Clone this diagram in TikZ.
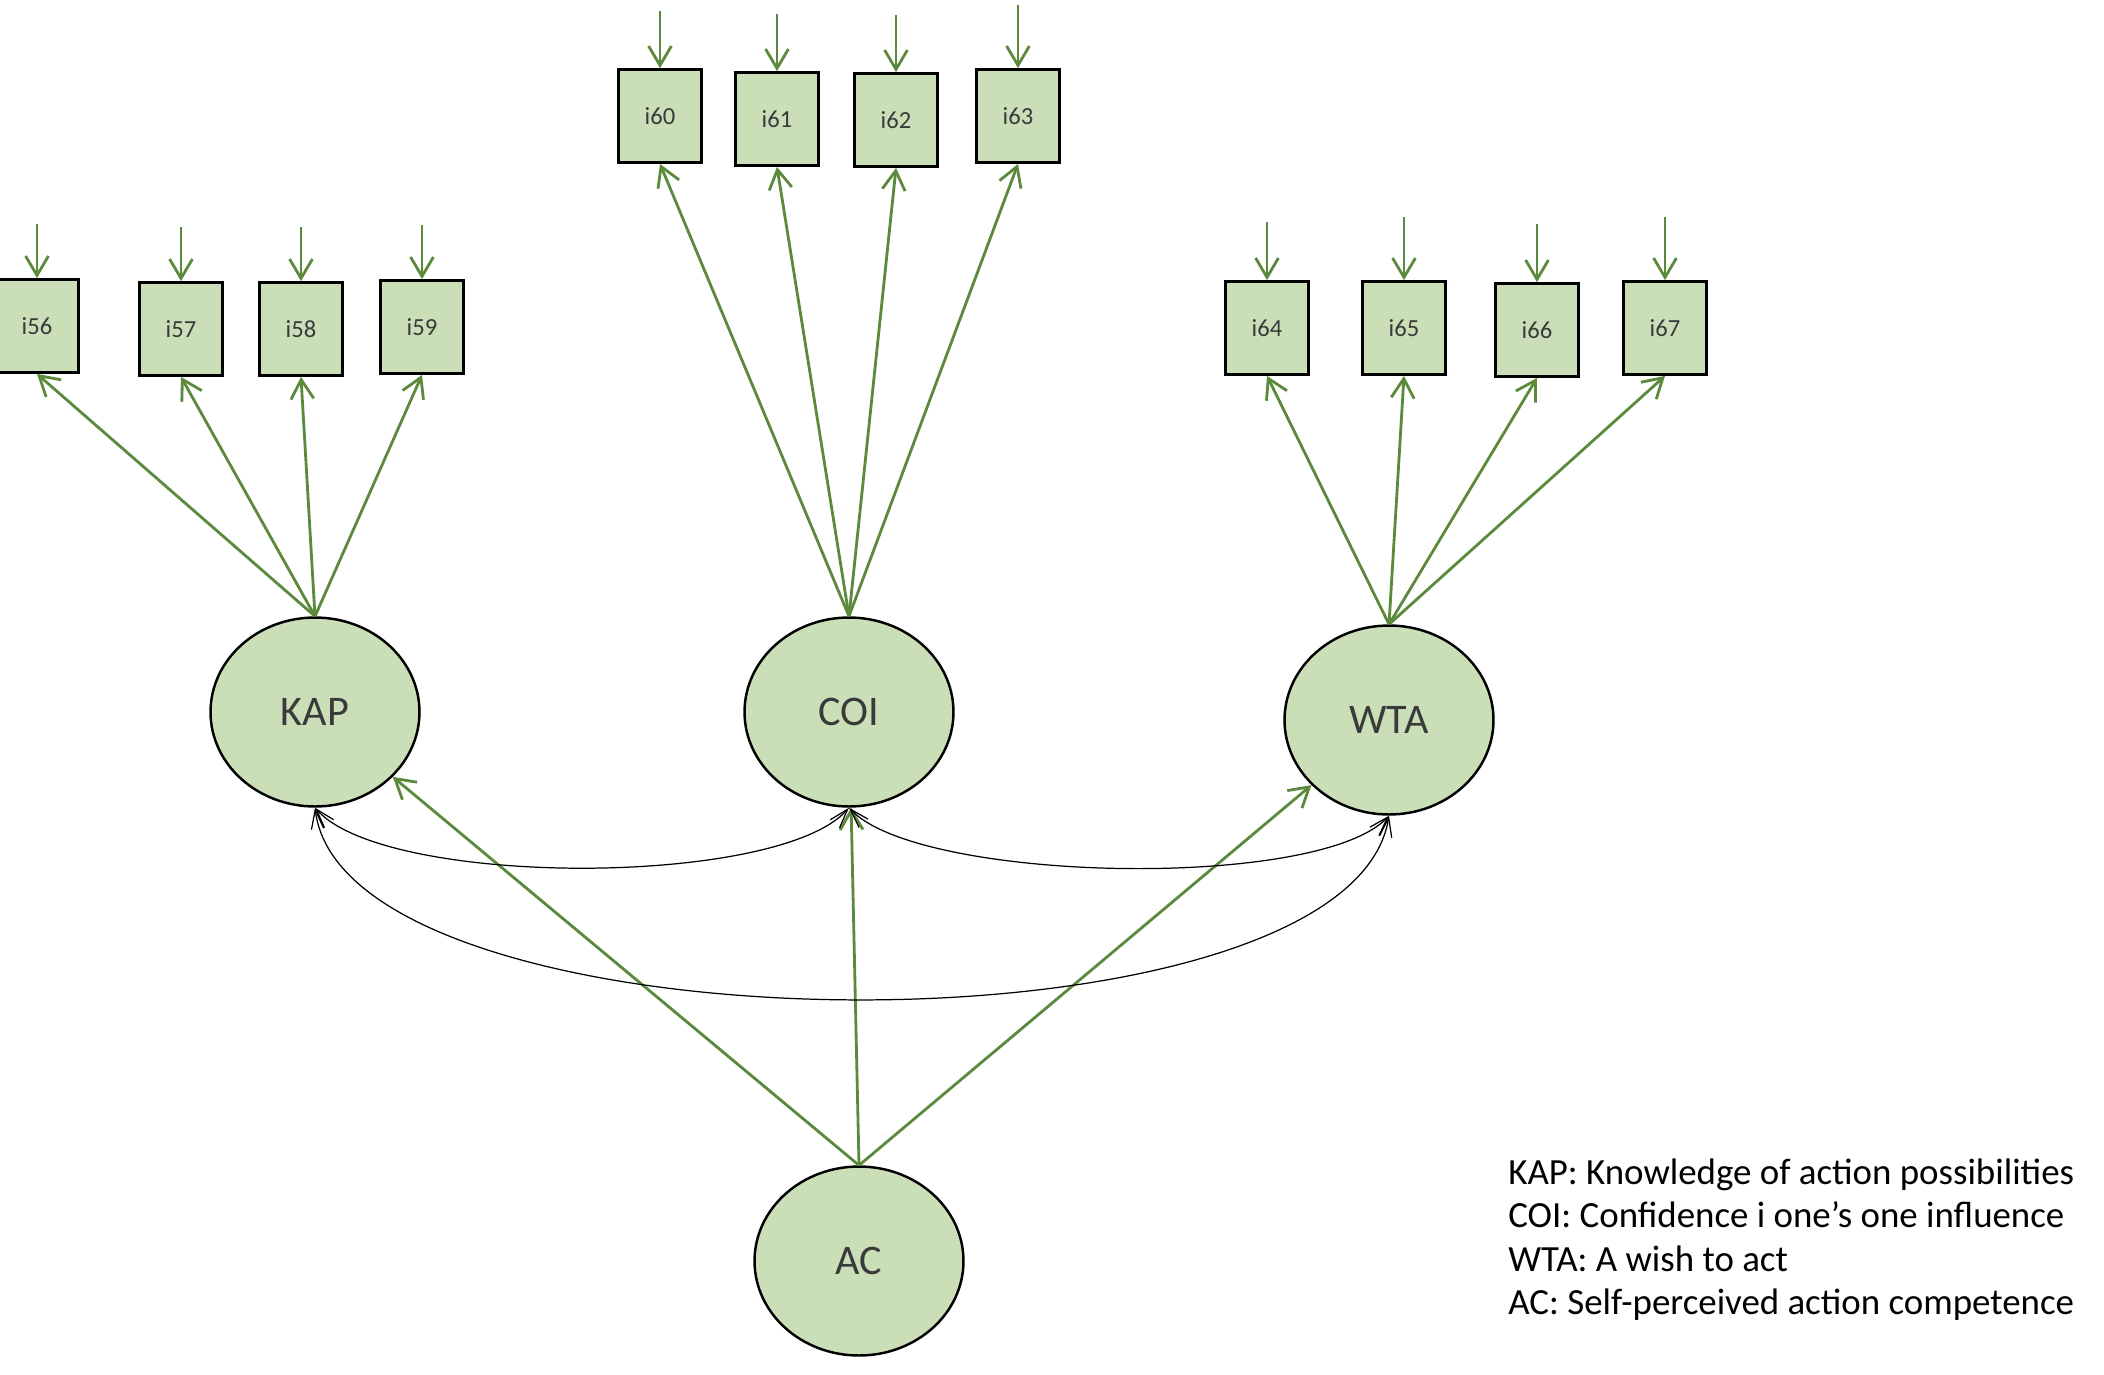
\documentclass[tikz,border=0pt]{standalone}
\usepackage{fontspec}
\setmainfont{Carlito}
\usetikzlibrary{shapes.geometric,arrows.meta,calc}

\definecolor{itemfill}{HTML}{CADFB8}
\definecolor{loadgreen}{HTML}{5B8A3C}
\definecolor{labelgray}{HTML}{3A3A3A}

\tikzset{
  item/.style={draw=black, line width=1.6pt, fill=itemfill, minimum width=1.66cm,
    minimum height=1.86cm, inner sep=0pt, text=labelgray, font=\fontsize{14}{16}\selectfont},
  factor/.style={ellipse, draw=black, line width=1.4pt, fill=itemfill, minimum width=4.18cm,
    minimum height=3.78cm, inner sep=0pt, text=labelgray, font=\fontsize{24}{28}\selectfont},
  load/.style={draw=loadgreen, line width=1.6pt, -{Straight Barb[length=11pt,width=13pt]}},
  covar/.style={draw=black, line width=0.7pt,
    {Straight Barb[length=11pt,width=7pt]}-{Straight Barb[length=11pt,width=7pt]}},
  legend/.style={anchor=base west, inner sep=0pt, font=\fontsize{21}{25}\selectfont}
}

\begin{document}
\begin{tikzpicture}[x=0.02cm, y=-0.02cm]
  \useasboundingbox (0,0) rectangle (2104,1374);

  % observed items
  \node[item] (i56) at (37,326) {i56};
  \node[item] (i57) at (181,329) {i57};
  \node[item] (i58) at (301,329) {i58};
  \node[item] (i59) at (422,327) {i59};
  \node[item] (i60) at (660,116) {i60};
  \node[item] (i61) at (777,119) {i61};
  \node[item] (i62) at (896,120) {i62};
  \node[item] (i63) at (1018,116) {i63};
  \node[item] (i64) at (1267,328) {i64};
  \node[item] (i65) at (1404,328) {i65};
  \node[item] (i66) at (1537,330) {i66};
  \node[item] (i67) at (1665,328) {i67};

  % latent factors
  \node[factor] (KAP) at (315,712) {KAP};
  \node[factor] (COI) at (849,712) {COI};
  \node[factor] (WTA) at (1389,720) {WTA};
  \node[factor] (AC) at (859,1261) {AC};

  % error terms
  \foreach \n/\h in {56/54,57/54,58/54,59/54,60/57,61/57,62/57,63/63,64/58,65/63,66/58,67/63}
  {
    \coordinate (e\n) at ($(i\n.north)+(0,-\h)$);
    \draw[load] (e\n) -- (i\n.north);
  }

  % loadings
  \foreach \n in {56,...,59} \draw[load] (KAP.north) -- (i\n.south);
  \foreach \n in {60,...,63} \draw[load] (COI.north) -- (i\n.south);
  \foreach \n in {64,...,67} \draw[load] (WTA.north) -- (i\n.south);
  \foreach \f in {KAP,COI,WTA} \draw[load] (AC.north) -- (\f);

  % covariances
  \draw[covar] (KAP.south) .. controls +(70,80) and +(-70,80) .. (COI.south);
  \draw[covar] (COI.south) .. controls +(70,75) and +(-70,75) .. (WTA.south);
  \draw[covar] (KAP.south) .. controls +(30,250) and +(-40,250) .. (WTA.south);

  % legend
  \node[legend] (l1) at (1508,1184) {KAP: Knowledge of action possibilities};
  \node[legend] (l2) at (1508,1227) {COI: Confidence i one’s one influence};
  \node[legend] (l3) at (1508,1271) {WTA: A wish to act};
  \node[legend] (l4) at (1508,1314) {AC: Self-perceived action competence};
\end{tikzpicture}
\end{document}
